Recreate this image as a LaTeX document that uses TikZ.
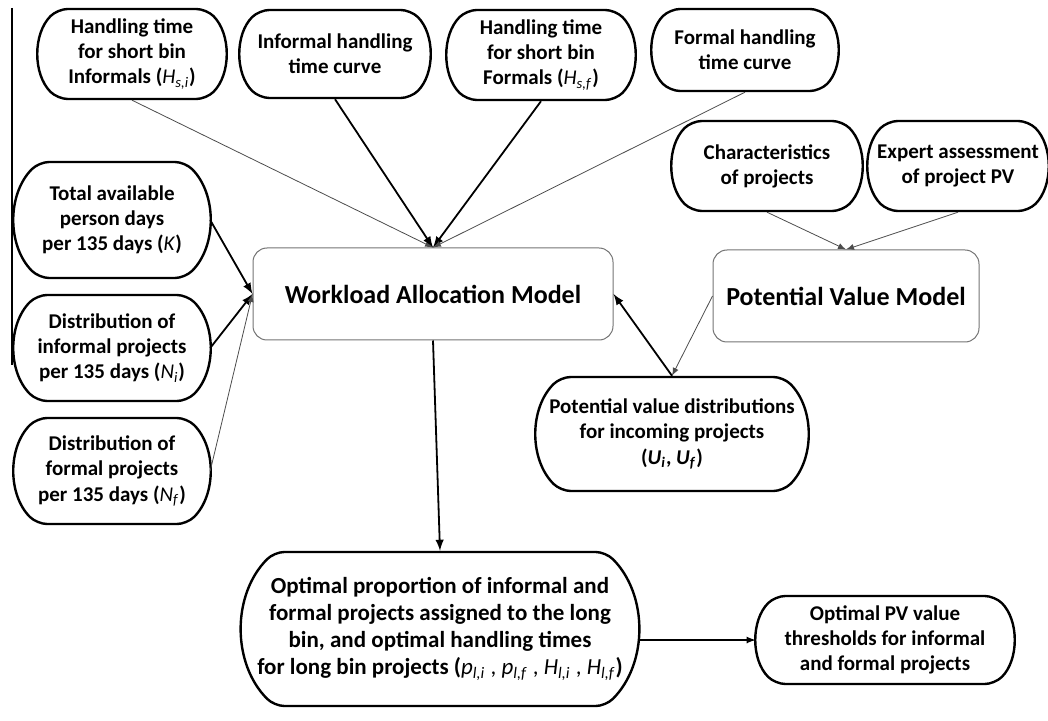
\documentclass[tikz,border=0pt]{standalone}
\usepackage{fontspec}
\setmainfont{Carlito}
\usetikzlibrary{calc,positioning,arrows,shapes}

\newcommand{\vsub}[2]{\textit{#1}\textsubscript{\textit{#2}}}

\begin{document}
\begin{tikzpicture}[x=0.5pt,y=-0.5pt,
  pill/.style={draw,line width=1.2pt,rounded rectangle,rounded rectangle arc length=90,rounded corners=5pt,align=center,font=\bfseries\fontsize{10.5}{12.6}\selectfont,inner sep=1pt},
  model/.style={draw=black!55,line width=0.5pt,rounded corners=7pt,align=center,font=\bfseries\fontsize{13}{15}\selectfont},
  weak/.style={-latex,draw=black!70,line width=0.4pt},
  strong/.style={-latex,line width=0.9pt}]
            \useasboundingbox (0,0) rectangle (1048,721);
            \draw[line width=0.6pt] (12,8) -- (12,365);

            % inputs on top
            \node[pill,minimum width=95pt,minimum height=45pt] (hsi) at (132,54) {Handling time\\for short bin\\Informals ({\mdseries\vsub{H}{s,i}})};
            \node[pill,minimum width=96pt,minimum height=44pt] (icurve) at (335,54) {Informal handling\\time curve};
            \node[pill,minimum width=95pt,minimum height=45pt] (hsf) at (541,55) {Handling time\\for short bin\\Formals ({\mdseries\vsub{H}{s,f}})};
            \node[pill,minimum width=94pt,minimum height=41pt] (fcurve) at (745,50) {Formal handling\\time curve};
            \node[pill,minimum width=96pt,minimum height=45pt] (chars) at (767,166) {Characteristics\\of projects};
            \node[pill,minimum width=91pt,minimum height=45pt] (expert) at (958,166) {Expert assessment\\of project PV};

            % inputs on the left
            \node[pill,minimum width=99pt,minimum height=58pt] (k) at (112,220) {Total available\\person days\\per 135 days ({\mdseries\textit{K}})};
            \node[pill,minimum width=99pt,minimum height=53pt] (ni) at (112,348) {Distribution of\\informal projects\\per 135 days ({\mdseries\vsub{N}{i}})};
            \node[pill,minimum width=99pt,minimum height=53pt] (nf) at (112,471) {Distribution of\\formal projects\\per 135 days ({\mdseries\vsub{N}{f}})};

            % models
            \node[model,minimum width=180pt,minimum height=46pt] (wam) at (433,294) {Workload Allocation Model};
            \node[model,minimum width=133pt,minimum height=46pt] (pvm) at (846,296) {Potential Value Model};

            % outputs
            \node[pill,minimum width=137pt,minimum height=57pt] (pvd) at (672,434) {Potential value distributions\\for incoming projects\\(\vsub{U}{i}, \vsub{U}{f})};
            \node[pill,minimum width=195pt,minimum height=77pt,font=\bfseries\fontsize{11.5}{13.5}\selectfont] (opt) at (440,629) {Optimal proportion of informal and\\formal projects assigned to the long\\bin, and optimal handling times\\for long bin projects ({\mdseries\vsub{p}{l,i} , \vsub{p}{l,f} , \vsub{H}{l,i} , \vsub{H}{l,f}})};
            \node[pill,minimum width=130pt,minimum height=44pt] (pvt) at (885,640) {Optimal PV value\\thresholds for informal\\and formal projects};

            \draw[weak] (hsi.south) -- (wam.north);
            \draw[strong] (icurve.south) -- (wam.north);
            \draw[strong] (hsf.south) -- (wam.north);
            \draw[weak] (fcurve.south) -- (wam.north);
            \draw[strong] (k.east) -- (wam.west);
            \draw[strong] (ni.east) -- (wam.west);
            \draw[weak] (nf.east) -- (wam.west);
            \draw[weak] (chars.south) -- (pvm.north);
            \draw[weak] (expert.south) -- (pvm.north);
            \draw[weak] (pvm.west) -- (pvd.north);
            \draw[strong] (pvd.north) -- (wam.east);
            \draw[strong] (wam.south) -- (opt.north);
            \draw[-latex,line width=0.6pt] (opt.east |- pvt.west) -- (pvt.west);
          \end{tikzpicture}
\end{document}
